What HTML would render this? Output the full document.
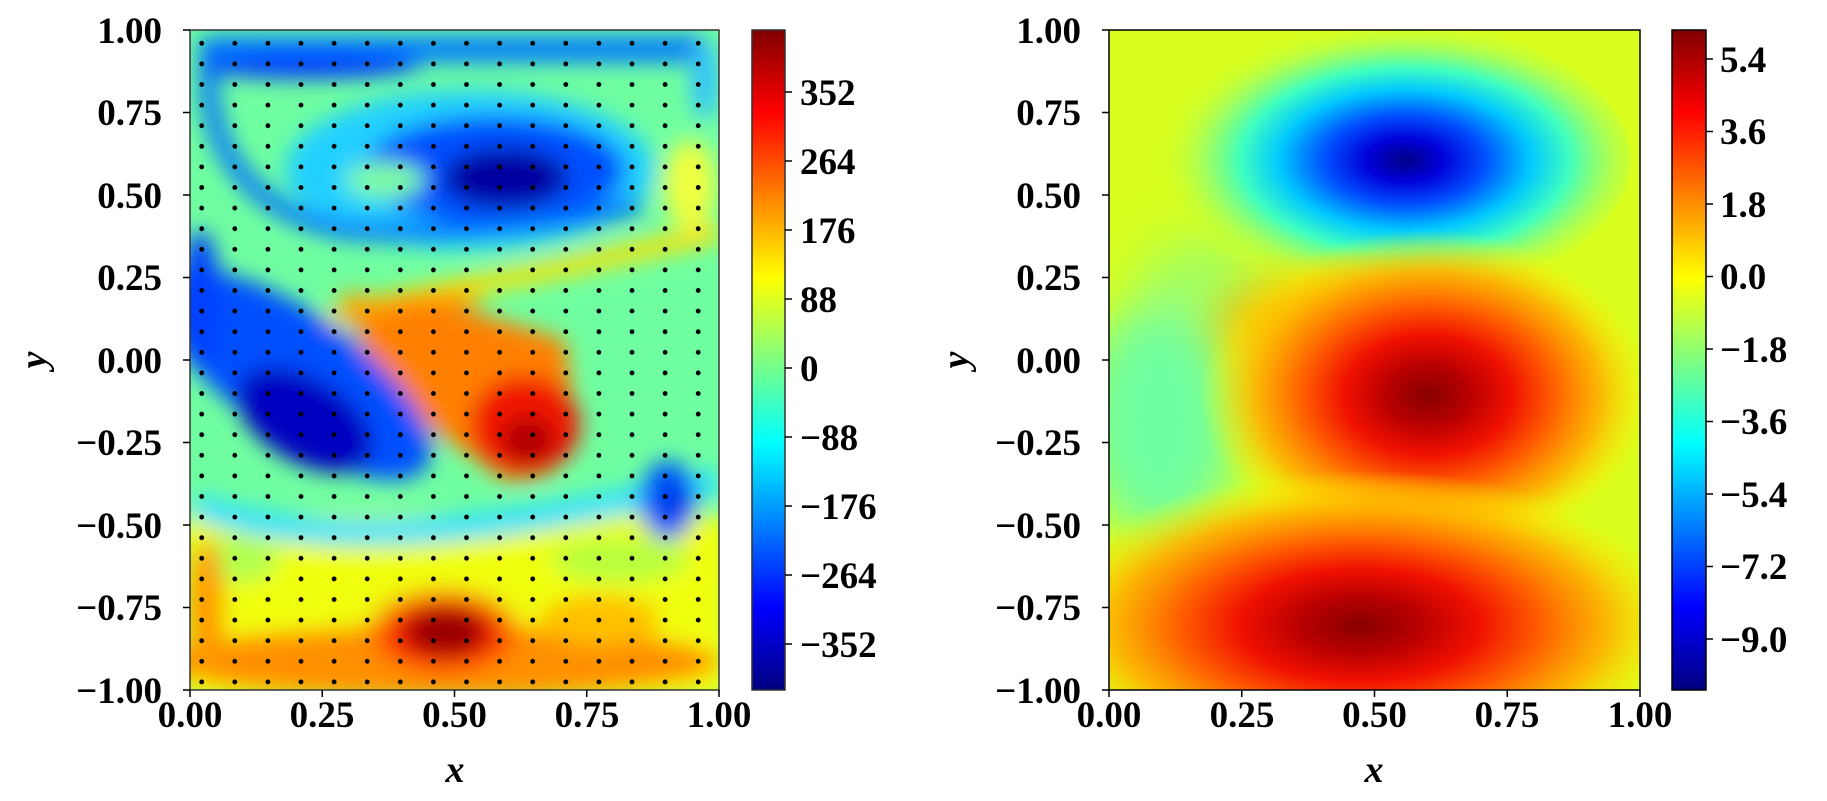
<!DOCTYPE html>
<html><head><meta charset="utf-8"><style>
html,body{margin:0;padding:0;background:#fff;}
svg{display:block;}
text{font-family:"Liberation Serif",serif;font-weight:bold;fill:#000;}
</style></head><body>
<svg width="1827" height="801" viewBox="0 0 1827 801" xmlns="http://www.w3.org/2000/svg">
<defs>
<linearGradient id="jet" x1="0" y1="1" x2="0" y2="0">
<stop offset="0" stop-color="#000080"/><stop offset="0.125" stop-color="#0000ff"/>
<stop offset="0.375" stop-color="#00ffff"/><stop offset="0.5" stop-color="#80ff80"/><stop offset="0.625" stop-color="#ffff00"/>
<stop offset="0.875" stop-color="#ff0000"/><stop offset="1" stop-color="#800000"/>
</linearGradient>
<clipPath id="cl"><rect x="190" y="30" width="529" height="660"/></clipPath>
<clipPath id="cr"><rect x="1109" y="30" width="531" height="660"/></clipPath>
<filter id="b6" x="-20%" y="-20%" width="140%" height="140%"><feGaussianBlur stdDeviation="11"/></filter>
<filter id="b20" x="-50%" y="-50%" width="200%" height="200%"><feGaussianBlur stdDeviation="25"/></filter>
<radialGradient id="gBlue" cx="0.55" cy="0.5" r="0.5">
<stop offset="0" stop-color="#000088"/><stop offset="0.15" stop-color="#0000d8"/><stop offset="0.32" stop-color="#0050ff"/>
<stop offset="0.5" stop-color="#00c8ff"/><stop offset="0.66" stop-color="#40ffc0"/><stop offset="0.82" stop-color="#a0ff60" stop-opacity="0.8"/>
<stop offset="1" stop-color="#d8ff20" stop-opacity="0"/></radialGradient>
<radialGradient id="gRed" cx="0.5" cy="0.5" r="0.5">
<stop offset="0" stop-color="#880000"/><stop offset="0.18" stop-color="#b80000"/><stop offset="0.36" stop-color="#f01000"/>
<stop offset="0.55" stop-color="#ff6000"/><stop offset="0.75" stop-color="#ffb000" stop-opacity="0.9"/><stop offset="0.9" stop-color="#ffe000" stop-opacity="0.4"/><stop offset="1" stop-color="#e8ff10" stop-opacity="0"/></radialGradient>
<radialGradient id="gRedL" cx="0.5" cy="0.5" r="0.5">
<stop offset="0" stop-color="#800000"/><stop offset="0.3" stop-color="#c00000"/><stop offset="0.6" stop-color="#ff2000"/>
<stop offset="1" stop-color="#ff6000" stop-opacity="0"/></radialGradient>
<pattern id="dots" x="185.15" y="33" width="33.1" height="20.6" patternUnits="userSpaceOnUse">
<circle cx="16.55" cy="10.3" r="2.4" fill="#000"/></pattern>
</defs>

<!-- LEFT FIELD -->
<g clip-path="url(#cl)">
<rect x="190" y="30" width="529" height="660" fill="#70ffa0"/>
<g filter="url(#b6)">
<rect x="180" y="515" width="550" height="185" fill="#f0ff10"/>
<ellipse cx="235" cy="560" rx="45" ry="22" fill="#b0ff50"/>
<ellipse cx="620" cy="560" rx="70" ry="22" fill="#b8ff40"/>
<ellipse cx="440" cy="662" rx="280" ry="36" fill="#ff9000"/>
<ellipse cx="600" cy="620" rx="60" ry="25" fill="#ffc000"/>
<ellipse cx="206" cy="610" rx="18" ry="70" fill="#ff9800"/>
<ellipse cx="444" cy="632" rx="85" ry="48" fill="url(#gRedL)"/>
<ellipse cx="446" cy="632" rx="40" ry="24" fill="#9a0000"/>
<path d="M195 505 C300 545 450 545 719 480" stroke="#30e0ff" stroke-width="26" fill="none"/>
<ellipse cx="668" cy="500" rx="28" ry="40" fill="#0060ff"/>
<ellipse cx="672" cy="500" rx="14" ry="22" fill="#0030e8"/>
<path d="M340 292 L454 306 L565 340 L575 420 L550 475 L507 482 L428 426 L370 360 Z" fill="#ff8000"/>
<ellipse cx="525" cy="425" rx="55" ry="50" fill="#f01800"/>
<ellipse cx="528" cy="440" rx="26" ry="24" fill="#b00000"/>
<path d="M330 318 C400 295 500 285 719 232" stroke="#ffe000" stroke-width="18" fill="none"/>
<path d="M340 316 C390 300 430 300 480 298" stroke="#ff9000" stroke-width="12" fill="none"/>
<ellipse cx="295" cy="375" rx="160" ry="62" transform="rotate(35 295 375)" fill="#0050ff"/>
<ellipse cx="305" cy="420" rx="75" ry="42" transform="rotate(30 305 420)" fill="#0000c0"/>
<ellipse cx="200" cy="300" rx="20" ry="70" fill="#0040ff"/>
<ellipse cx="470" cy="170" rx="185" ry="80" fill="#20d0ff"/>
<ellipse cx="495" cy="170" rx="130" ry="54" fill="#0050ff"/>
<ellipse cx="505" cy="178" rx="62" ry="30" fill="#0000a0"/>
<ellipse cx="385" cy="180" rx="40" ry="18" fill="#80ffa0"/>
<path d="M210 60 C200 150 260 232 380 232 C470 232 560 225 640 205" stroke="#0070ff" stroke-width="18" fill="none"/>
<rect x="198" y="36" width="510" height="26" rx="12" fill="#0078ff"/>
<ellipse cx="310" cy="66" rx="110" ry="12" fill="#0030ff"/>
<ellipse cx="690" cy="185" rx="26" ry="45" fill="#f0ff40"/>
<ellipse cx="705" cy="80" rx="14" ry="40" fill="#30c0ff"/>
</g>
<rect x="185" y="33" width="530" height="660" fill="url(#dots)"/>
</g>
<rect x="190" y="30" width="529" height="660" fill="none" stroke="#333" stroke-width="1.5"/>

<!-- RIGHT FIELD -->
<g clip-path="url(#cr)">
<rect x="1109" y="30" width="531" height="660" fill="#d8ff20"/>
<g filter="url(#b20)">
<ellipse cx="1160" cy="420" rx="80" ry="120" fill="#70ffa0"/>
<ellipse cx="1200" cy="280" rx="60" ry="40" fill="#a0ff60"/>
</g>
<ellipse cx="1380" cy="160" rx="250" ry="140" fill="url(#gBlue)"/>
<g filter="url(#b20)"><ellipse cx="1310" cy="325" rx="90" ry="35" fill="#ffa000"/></g>
<ellipse cx="1428" cy="395" rx="230" ry="165" fill="url(#gRed)"/>
<ellipse cx="1360" cy="625" rx="330" ry="155" fill="url(#gRed)"/>
</g>
<rect x="1109" y="30" width="531" height="660" fill="none" stroke="#000" stroke-width="1.5"/>

<!-- colorbars -->
<rect x="752" y="30" width="33" height="660" fill="url(#jet)" stroke="#333" stroke-width="1.5"/>
<rect x="1672" y="30" width="34" height="660" fill="url(#jet)" stroke="#000" stroke-width="1.5"/>

<!-- ticks -->
<g stroke="#000" stroke-width="1.5">
<path d="M183 30H190M183 112.5H190M183 195H190M183 277.5H190M183 360H190M183 442.5H190M183 525H190M183 607.5H190M183 690H190"/>
<path d="M190 690V697M322.25 690V697M454.5 690V697M586.75 690V697M719 690V697"/>
<path d="M1102 30H1109M1102 112.5H1109M1102 195H1109M1102 277.5H1109M1102 360H1109M1102 442.5H1109M1102 525H1109M1102 607.5H1109M1102 690H1109"/>
<path d="M1109 690V697M1241.75 690V697M1374.5 690V697M1507.25 690V697M1640 690V697"/>
<path d="M785 92H792M785 161H792M785 230H792M785 299H792M785 368H792M785 437H792M785 506H792M785 575H792M785 644H792"/>
<path d="M1706 59H1713M1706 131.5H1713M1706 204H1713M1706 276.5H1713M1706 349H1713M1706 421.5H1713M1706 494H1713M1706 566.5H1713M1706 639H1713"/>
</g>

<g font-size="37" text-anchor="end">
<text x="162" y="43">1.00</text><text x="162" y="125">0.75</text><text x="162" y="208">0.50</text>
<text x="162" y="290">0.25</text><text x="162" y="373">0.00</text><text x="162" y="455">−0.25</text>
<text x="162" y="538">−0.50</text><text x="162" y="620">−0.75</text><text x="162" y="703">−1.00</text>
<text x="1081" y="43">1.00</text><text x="1081" y="125">0.75</text><text x="1081" y="208">0.50</text>
<text x="1081" y="290">0.25</text><text x="1081" y="373">0.00</text><text x="1081" y="455">−0.25</text>
<text x="1081" y="538">−0.50</text><text x="1081" y="620">−0.75</text><text x="1081" y="703">−1.00</text>
</g>
<g font-size="37" text-anchor="middle">
<text x="190" y="727">0.00</text><text x="322" y="727">0.25</text><text x="454.5" y="727">0.50</text>
<text x="587" y="727">0.75</text><text x="719" y="727">1.00</text>
<text x="1109" y="727">0.00</text><text x="1242" y="727">0.25</text><text x="1374.5" y="727">0.50</text>
<text x="1507" y="727">0.75</text><text x="1640" y="727">1.00</text>
</g>
<g font-size="37">
<text x="800" y="105">352</text><text x="800" y="174">264</text><text x="800" y="243">176</text>
<text x="800" y="312">88</text><text x="800" y="381">0</text><text x="800" y="450">−88</text>
<text x="800" y="519">−176</text><text x="800" y="588">−264</text><text x="800" y="657">−352</text>
<text x="1720" y="72">5.4</text><text x="1720" y="144">3.6</text><text x="1720" y="217">1.8</text>
<text x="1720" y="289">0.0</text><text x="1720" y="362">−1.8</text><text x="1720" y="434">−3.6</text>
<text x="1720" y="507">−5.4</text><text x="1720" y="579">−7.2</text><text x="1720" y="652">−9.0</text>
</g>
<g font-size="38" font-style="italic" text-anchor="middle">
<text x="455" y="782">x</text><text x="1374" y="782">x</text>
<text transform="translate(46 360) rotate(-90)">y</text>
<text transform="translate(968 360) rotate(-90)">y</text>
</g>
</svg>
</body></html>
